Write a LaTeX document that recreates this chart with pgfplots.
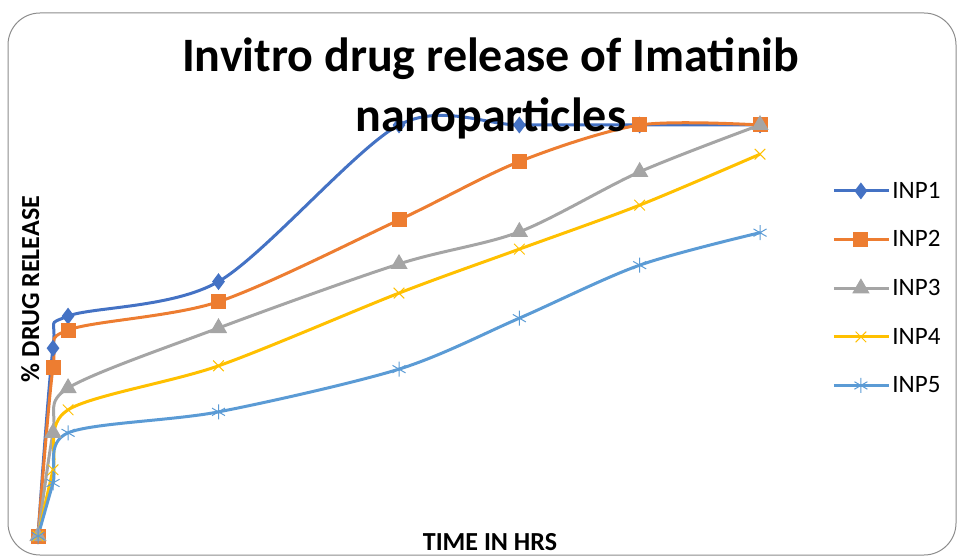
\documentclass[border=0pt]{standalone}
\usepackage{pgfplots}
\pgfplotsset{compat=1.18}
\usepackage{fontspec}
\setmainfont{Carlito}
\definecolor{c1}{HTML}{4472C4}
\definecolor{c2}{HTML}{ED7D31}
\definecolor{c3}{HTML}{A5A5A5}
\definecolor{c4}{HTML}{FFC000}
\definecolor{c5}{HTML}{5B9BD5}
\begin{document}
\begin{tikzpicture}
\useasboundingbox (0pt,0pt) rectangle (957pt,557pt);
\draw[black!45, line width=1pt, rounded corners=32pt] (8pt,2pt) rectangle (956pt,544pt);
\begin{axis}[
  at={(38pt,21pt)}, anchor=south west,
  scale only axis, width=722pt, height=411pt,
  xmin=0, xmax=12, ymin=0, ymax=100,
  clip=false,
  axis line style={draw=none},
  xtick=\empty, ytick=\empty,
  title={Invitro drug release of Imatinib\\nanoparticles},
  title style={at={(axis description cs:0.627,1.197)}, anchor=north, align=center, inner sep=0pt,
    font=\fontsize{48}{60}\selectfont\bfseries},
  xlabel={TIME IN HRS},
  xlabel style={at={(axis description cs:0.626,-0.036)}, anchor=base, inner sep=0pt,
    font=\fontsize{26}{30}\selectfont\bfseries},
  ylabel={\% DRUG RELEASE},
  ylabel style={at={(axis description cs:0.0014,0.601)}, anchor=base, rotate=0, inner sep=0pt,
    font=\fontsize{26}{30}\selectfont\bfseries},
  every axis plot/.append style={line width=3pt, smooth, tension=0.5},
  legend style={at={(axis description cs:1.100,0.603)}, anchor=west, draw=none, fill=none,
    font=\fontsize{25}{28}\selectfont, row sep=27pt, inner sep=0pt,
    nodes={inner sep=2pt}},
  legend cell align=left,
  legend image code/.code={\draw[mark repeat=2,mark phase=2] plot coordinates {(0pt,0pt) (27pt,0pt) (55pt,0pt)};},
]
\addplot[c1, mark=diamond*, mark size=6pt, mark options={solid, fill=c1}] coordinates {
 (0,0) (0.25,45.7) (0.5,53.5) (3,61.9) (6,100) (8,100) (10,100) (12,100)};
\addlegendentry{INP1}
\addplot[c2, mark=square*, mark size=6pt, mark options={solid, fill=c2}] coordinates {
 (0,0) (0.25,41.1) (0.5,50.1) (3,57.0) (6,76.9) (8,91.1) (10,100) (12,100)};
\addlegendentry{INP2}
\addplot[c3, mark=triangle*, mark size=7pt, mark options={solid, fill=c3}] coordinates {
 (0,0) (0.25,25.1) (0.5,36.0) (3,50.6) (6,66.2) (8,74.0) (10,88.6) (12,100)};
\addlegendentry{INP3}
\addplot[c4, mark=x, mark size=7.5pt, mark options={solid, line width=1pt}] coordinates {
 (0,0) (0.25,16.1) (0.5,30.7) (3,41.4) (6,59.1) (8,69.8) (10,80.5) (12,92.9)};
\addlegendentry{INP4}
\addplot[c5, mark=asterisk, mark size=7.5pt, mark options={solid, line width=1pt}] coordinates {
 (0,0) (0.25,12.9) (0.5,25.1) (3,30.2) (6,40.6) (8,53.0) (10,65.9) (12,73.8)};
\addlegendentry{INP5}
\end{axis}
\end{tikzpicture}
\end{document}
